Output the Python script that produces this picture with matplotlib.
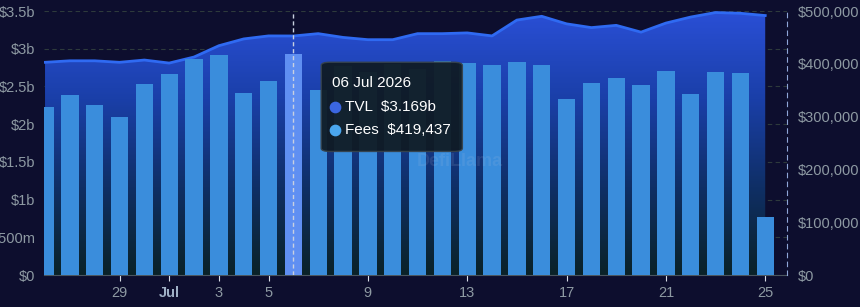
import matplotlib
matplotlib.use("Agg")
import matplotlib.pyplot as plt
import matplotlib.dates as mdates
from matplotlib.colors import LinearSegmentedColormap
from matplotlib.patches import FancyBboxPatch
import numpy as np
import pandas as pd

plt.rcParams['font.family'] = ['Liberation Sans', 'DejaVu Sans']

# daily data, 26 Jun -> 25 Jul
dates = pd.date_range("2026-06-26", "2026-07-25", freq="D")
tvl_b = [2.82, 2.84, 2.84, 2.82, 2.85, 2.81, 2.89, 3.04, 3.13, 3.17,
         3.169, 3.20, 3.15, 3.12, 3.12, 3.20, 3.20, 3.21, 3.17, 3.38,
         3.43, 3.33, 3.28, 3.31, 3.22, 3.34, 3.42, 3.48, 3.47, 3.44]
fees = [319000, 341000, 322000, 300000, 361000, 380000, 409000, 417000, 345000, 367000,
        419437, 350000, 395000, 385000, 400000, 390000, 405000, 401000, 397000, 403000,
        398000, 333000, 363000, 374000, 359000, 386000, 342000, 384000, 382000, 109000]

left_ticks = [0, 0.5, 1, 1.5, 2, 2.5, 3, 3.5]
left_labels = ["$0", "$500m", "$1b", "$1.5b", "$2b", "$2.5b", "$3b", "$3.5b"]
right_ticks = [0, 100000, 200000, 300000, 400000, 500000]
right_labels = ["$0", "$100,000", "$200,000", "$300,000", "$400,000", "$500,000"]
xtick_dates = pd.to_datetime(["2026-06-29", "2026-07-01", "2026-07-03", "2026-07-05", "2026-07-09",
                              "2026-07-13", "2026-07-17", "2026-07-21", "2026-07-25"])
xtick_labels = ["29", "Jul", "3", "5", "9", "13", "17", "21", "25"]
hover = pd.Timestamp("2026-07-06")

bg = "#0d0e2e"
fig = plt.figure(figsize=(8.6, 3.07), dpi=100, facecolor=bg)
ax = fig.add_axes([0.0512, 0.1042, 0.8640, 0.8599])
ax.set_facecolor(bg)

x = mdates.date2num(dates)
x0 = mdates.date2num(dates[0]) - 0.04
x1 = mdates.date2num(dates[-1]) + 0.88

# grid under everything
for t in left_ticks:
    ax.axhline(t, color="#2e3a3c", lw=0.8, ls=(0, (4, 3)), zorder=0)

# TVL area with vertical gradient
poly = ax.fill_between(x, tvl_b, 0, color="none", lw=0)
cmap = LinearSegmentedColormap.from_list("tvl", ["#0a2228", "#0f2f66", "#1a3fa8", "#2a4fd6"])
img = ax.imshow(np.linspace(0, 1, 256).reshape(-1, 1), cmap=cmap, aspect="auto",
                extent=[x0, x1, 0, 3.5], origin="lower", zorder=1)
img.set_clip_path(poly.get_paths()[0], transform=ax.transData)
ax.plot(x, tvl_b, color="#2f6af2", lw=2, zorder=2)

ax.set_xlim(x0, x1)
ax.set_ylim(0, 3.5)
ax.set_yticks(left_ticks)
ax.set_yticklabels(left_labels)
ax.tick_params(axis="y", length=0, colors="#8e9aa3", labelsize=10.5, pad=6)
ax.set_xticks(mdates.date2num(xtick_dates))
ax.set_xticklabels(xtick_labels)
ax.tick_params(axis="x", length=4, color="#d8dde6", colors="#8e9aa3", labelsize=10.5, pad=4)
for lab in ax.get_xticklabels():
    if lab.get_text() == "Jul":
        lab.set_fontweight("bold")
        lab.set_color("#9fb0c6")
for s in ["top", "left", "right"]:
    ax.spines[s].set_visible(False)
ax.spines["bottom"].set_color("#4a5660")

# fees bars on right axis
ax2 = ax.twinx()
colors = ["#5f8ff2" if d == hover else "#3a8ddc" for d in dates]
ax2.bar(x, fees, width=0.7, color=colors, zorder=3)
ax2.set_ylim(0, 500000)
ax2.set_xlim(x0, x1)
ax2.set_yticks(right_ticks)
ax2.set_yticklabels(right_labels)
ax2.tick_params(axis="y", length=0, colors="#8e9aa3", labelsize=10.5, pad=8)
for s in ["top", "left", "bottom"]:
    ax2.spines[s].set_visible(False)
ax2.spines["right"].set_color("#8fa6d8")
ax2.spines["right"].set_linestyle((0, (4, 4)))

# hover line
ax2.axvline(mdates.date2num(hover), color="#c8d0e0", lw=1, ls=(0, (3, 2)), zorder=4)

# watermark
ax2.text(0.56, 0.43, "DefiLlama", transform=ax2.transAxes, fontsize=13, color="#c0c8e0",
         alpha=0.12, ha="center", va="center", fontweight="bold", zorder=4)

# tooltip
box = FancyBboxPatch((0.373, 0.468), 0.19, 0.338, boxstyle="round,pad=0,rounding_size=0.012",
                     transform=ax2.transAxes, facecolor="#0f1a22", edgecolor="#37434c",
                     lw=1, alpha=0.93, zorder=5)
ax2.add_patch(box)
ax2.text(0.387, 0.727, "06 Jul 2026", transform=ax2.transAxes, color="white",
         fontsize=11, va="center", zorder=6)
ax2.scatter([0.392], [0.635], transform=ax2.transAxes, s=55, color="#3b66e0", zorder=6)
ax2.text(0.405, 0.635, "TVL  $3.169b", transform=ax2.transAxes, color="white",
         fontsize=11, va="center", zorder=6)
ax2.scatter([0.392], [0.548], transform=ax2.transAxes, s=55, color="#4aa6ee", zorder=6)
ax2.text(0.405, 0.548, "Fees  $419,437", transform=ax2.transAxes, color="white",
         fontsize=11, va="center", zorder=6)

fig.savefig("out.png", dpi=100, facecolor=bg)
